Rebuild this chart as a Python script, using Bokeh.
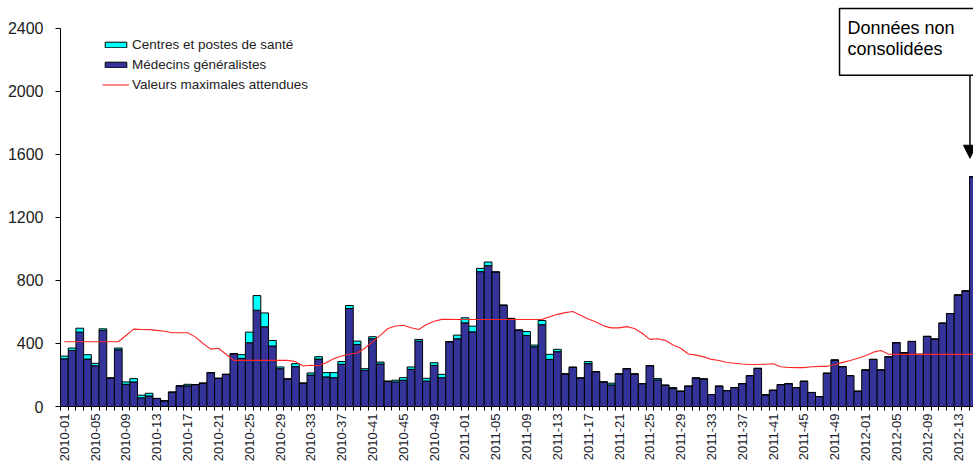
import numpy as np
from bokeh.plotting import figure
from bokeh.models import (ColumnDataSource, FixedTicker, Legend, LegendItem,
                          Label, Arrow, NormalHead, Range1d)
from bokeh.embed import file_html
from bokeh.resources import INLINE

# ---- data -------------------------------------------------------------
weeks = ([f"2010-{i:02d}" for i in range(1, 53)] +
         [f"2011-{i:02d}" for i in range(1, 53)] +
         [f"2012-{i:02d}" for i in range(1, 16)])

medecins = [
    303, 356, 472, 301, 259, 483, 181, 360, 141, 156, 55, 67, 51, 36, 91, 131,
    131, 139, 148, 215, 179, 204, 335, 306, 405, 611, 506, 384, 240, 175, 253, 148,
    200, 301, 188, 183, 268, 622, 394, 230, 430, 270, 160, 156, 167, 236, 415, 162,
    261, 183, 411, 430,
    531, 474, 856, 894, 854, 643, 559, 485, 451, 379, 519, 299, 348, 207, 249, 181,
    272, 221, 156, 137, 207, 240, 207, 145, 259, 169, 135, 114, 97, 129, 181, 175,
    76, 129, 101, 120, 145, 196, 242, 74, 103, 139, 145, 120, 160, 89, 63, 211,
    295, 253, 196, 97,
    232, 299, 232, 316, 405, 341, 413, 331, 445, 428, 529, 590, 708, 734, 1459,
]

centres = [
    17, 15, 25, 28, 15, 10, 0, 11, 15, 21, 17, 17, 0, 0, 0, 0,
    10, 0, 0, 0, 0, 0, 0, 23, 67, 93, 88, 35, 11, 0, 19, 0,
    13, 15, 27, 32, 17, 19, 21, 10, 13, 12, 0, 11, 16, 15, 11, 17,
    17, 21, 0, 23,
    32, 36, 21, 23, 0, 0, 0, 0, 25, 11, 27, 32, 15, 0, 0, 0,
    13, 0, 0, 11, 0, 0, 0, 0, 0, 8, 0, 6, 0, 0, 0, 0,
    0, 0, 0, 0, 0, 0, 0, 0, 0, 0, 0, 0, 0, 0, 0, 0,
    0, 0, 0, 0,
    0, 0, 0, 0, 0, 0, 0, 0, 0, 0, 0, 0, 0, 0, 0,
]

maximales = [
    411, 411, 411, 411, 411, 411, 411, 411, 451, 491, 489, 488, 483, 478, 468, 468,
    468, 442, 400, 364, 370, 332, 293, 293, 293, 293, 293, 293, 293, 293, 285, 257,
    262, 258, 278, 305, 320, 332, 340, 370, 410, 452, 495, 511, 516, 500, 489, 520,
    541, 553, 554, 552,
    552, 552, 552, 552, 552, 552, 552, 552, 552, 552, 553, 570, 585, 596, 603, 580,
    556, 537, 512, 499, 499, 507, 495, 465, 426, 430, 420, 390, 370, 333, 326, 315,
    299, 292, 279, 275, 270, 267, 267, 268, 271, 252, 248, 247, 247, 252, 255, 255,
    265, 280, 292, 306,
    322, 345, 355, 332, 331, 331, 331, 331, 331, 331, 331, 331, 331, 331, 331,
]

y_ticks = [0, 400, 800, 1200, 1600, 2000, 2400]

FONT = "Liberation Sans"
idx = list(range(len(weeks)))
source = ColumnDataSource(dict(x=idx, med=medecins, cen=centres, maxv=maximales))

# ---- figure -----------------------------------------------------------
# frame reaches the top of the canvas so that the note box is not clipped;
# the y axis itself is bounded to 0..2400
p = figure(width=973, height=464, output_backend="svg", toolbar_location=None,
           x_range=Range1d(-0.5, 118.01), y_range=Range1d(0, 2577.3),
           min_border_left=60, min_border_right=0, min_border_top=0,
           min_border_bottom=57)
p.outline_line_color = None
p.xgrid.visible = False
p.ygrid.visible = False

bars = p.vbar_stack(["med", "cen"], x="x", width=1, source=source,
                    fill_color=["#333399", "#00FFFF"], line_color="black",
                    line_width=1)
line = p.line("x", "maxv", source=source, line_color="#FF2626", line_width=1.1)

# x axis
ticks = list(range(0, len(weeks), 4))
p.xaxis.ticker = FixedTicker(ticks=ticks,
                             minor_ticks=[i - 0.5 for i in range(len(weeks) + 1)])
p.xaxis.major_label_overrides = {t: weeks[t] for t in ticks}
p.xaxis.major_label_orientation = np.pi / 2
p.xaxis.major_tick_line_color = None
p.xaxis.major_tick_out = 4
p.xaxis.major_tick_in = 0
p.xaxis.minor_tick_out = 4
p.xaxis.minor_tick_in = 0
p.xaxis.minor_tick_line_color = "black"
p.xaxis.major_label_standoff = 3
p.xaxis.major_label_text_font = FONT
p.xaxis.major_label_text_font_size = "13px"
p.xaxis.major_label_text_color = "#1a1a2a"
p.xaxis.axis_line_color = "black"

# y axis
p.yaxis.ticker = FixedTicker(ticks=y_ticks)
p.yaxis.bounds = (0, 2400)
p.yaxis.major_tick_out = 5
p.yaxis.major_tick_in = 0
p.yaxis.minor_tick_line_color = None
p.yaxis.major_label_standoff = 12
p.yaxis.major_label_text_font = FONT
p.yaxis.major_label_text_font_size = "16px"
p.yaxis.major_label_text_color = "#222222"
p.yaxis.axis_line_color = "black"

legend = Legend(items=[
    LegendItem(label="Centres et postes de santé", renderers=[bars[1]]),
    LegendItem(label="Médecins généralistes", renderers=[bars[0]]),
    LegendItem(label="Valeurs maximales attendues", renderers=[line]),
], location=(42, 313), padding=0, margin=0, spacing=3, label_height=17,
    glyph_height=7, glyph_width=27, label_standoff=3,
    label_text_font=FONT, label_text_font_size="13.5px",
    label_text_color="#222222", border_line_color=None,
    background_fill_alpha=0)
p.add_layout(legend)

# note box (runs off the right edge, as in the original)
p.quad(left=[100.62], right=[125], top=[2526.6], bottom=[2102.3],
       fill_color="white", line_color="black", line_width=1.5)

note = Label(x=778, y=399, x_units="screen", y_units="screen",
             text="Données non\nconsolidées", text_align="left",
             text_baseline="top", text_font=FONT, text_font_size="18px",
             text_line_height=1.05, text_color="black",
             padding=dict(left=9, right=9, top=10, bottom=18))
p.add_layout(note)

arrow = Arrow(end=NormalHead(size=13, fill_color="black", line_color="black"),
              x_start=117.55, y_start=2101, x_end=117.55, y_end=1576,
              line_color="black", line_width=1.5)
p.add_layout(arrow)

open("out.html", "w").write(file_html(p, INLINE))
